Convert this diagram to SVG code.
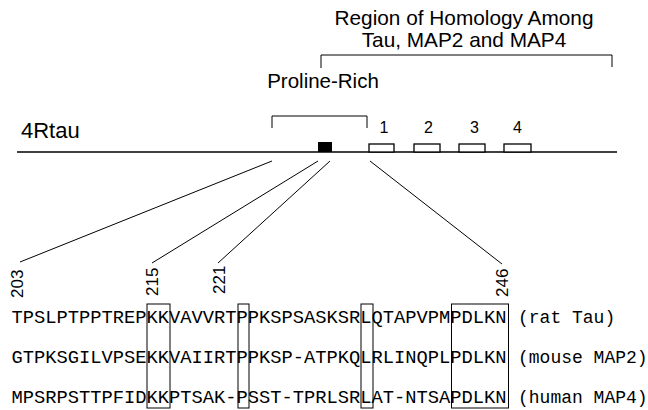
<svg xmlns="http://www.w3.org/2000/svg" width="648" height="410" viewBox="0 0 648 410">
  <style>
    .sans { font-family: "Liberation Sans", Arial, Helvetica, sans-serif; fill: #000; }
    .mono { font-family: "Liberation Mono", "Courier New", monospace; font-size: 18.75px; fill: #000; }
    .tag { font-family: "Liberation Mono", "Courier New", monospace; font-size: 18px; fill: #000; }
    .ln { stroke: #000; stroke-width: 1; fill: none; }
    .bx { stroke: #000; stroke-width: 1.3; fill: #fff; }
    .seqbox { stroke: #000; stroke-width: 1; fill: none; }
  </style>

  <rect width="648" height="410" fill="#fff"/>

  <!-- homology region label and bracket -->
  <g id="homology">
    <text class="sans" x="464" y="25" font-size="20.8" text-anchor="middle">Region of Homology Among</text>
    <text class="sans" x="464" y="47" font-size="20.8" text-anchor="middle">Tau, MAP2 and MAP4</text>
    <path class="ln" d="M321,68 V55 H612 V67"/>
  </g>

  <!-- proline-rich label and bracket -->
  <g id="proline">
    <text class="sans" x="323" y="88" font-size="20.5" text-anchor="middle">Proline-Rich</text>
    <path class="ln" d="M272,128 V116 H367 V128"/>
  </g>

  <!-- 4R tau backbone with repeats -->
  <g id="tau4r">
    <text class="sans" x="21" y="138" font-size="22">4Rtau</text>
    <line x1="17" y1="152" x2="617" y2="152" stroke="#000" stroke-width="1.5"/>
    <rect x="318" y="142" width="14" height="10" fill="#000"/>
    <rect class="bx" x="369" y="144" width="25" height="8"/>
    <rect class="bx" x="414" y="144" width="26" height="8"/>
    <rect class="bx" x="459" y="144" width="26" height="8"/>
    <rect class="bx" x="504" y="144" width="27" height="8"/>
    <g class="sans" font-size="16" text-anchor="middle">
      <text x="384" y="133">1</text>
      <text x="428.5" y="133">2</text>
      <text x="474.5" y="133">3</text>
      <text x="517.5" y="133">4</text>
    </g>
  </g>

  <!-- connectors from the backbone to residue numbers -->
  <g id="connectors" class="ln">
    <line x1="272" y1="161" x2="20" y2="262"/>
    <line x1="318" y1="161" x2="152" y2="263"/>
    <line x1="330" y1="161" x2="218" y2="263"/>
    <line x1="370" y1="161" x2="502" y2="264"/>
  </g>

  <!-- residue numbers -->
  <g id="residues" class="sans" font-size="17">
    <text transform="translate(23,298) rotate(-90)">203</text>
    <text transform="translate(158,296) rotate(-90)">215</text>
    <text transform="translate(225,294) rotate(-90)">221</text>
    <text transform="translate(508,297) rotate(-90)">246</text>
  </g>

  <!-- aligned sequences with species tags -->
  <g id="alignment">
    <text class="mono" x="11.5" y="323">TPSLPTPPTREPKKVAVVRTPPKSPSASKSRLQTAPVPMPDLKN</text>
    <text class="mono" x="11.5" y="363">GTPKSGILVPSEKKVAIIRTPPKSP-ATPKQLRLINQPLPDLKN</text>
    <text class="mono" x="11.5" y="403">MPSRPSTTPFIDKKPTSAK-PSST-TPRLSRLAT-NTSAPDLKN</text>
    <text class="tag" x="518" y="323">(rat Tau)</text>
    <text class="tag" x="518" y="363">(mouse MAP2)</text>
    <text class="tag" x="518" y="403">(human MAP4)</text>
  </g>

  <!-- conserved residue boxes -->
  <g id="conserved" class="seqbox">
    <rect x="147" y="304" width="23" height="104"/>
    <rect x="238" y="304" width="11" height="104"/>
    <rect x="361" y="304" width="12" height="104"/>
    <rect x="451.5" y="304" width="57" height="104"/>
  </g>
</svg>
